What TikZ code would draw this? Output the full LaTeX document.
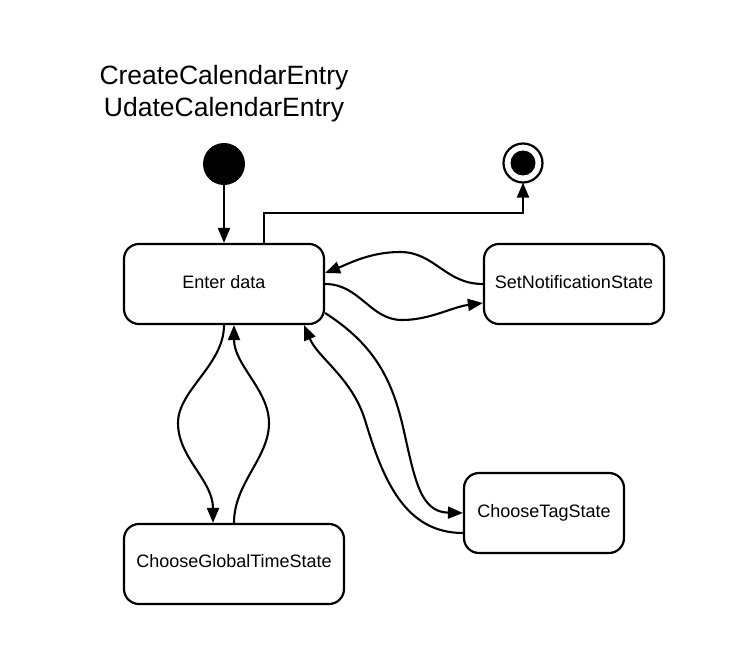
\documentclass[tikz,border=0pt]{standalone}
\usepackage{fontspec}
\setmainfont{Liberation Sans}
\usetikzlibrary{arrows.meta,calc}
\begin{document}
\begin{tikzpicture}[x=1pt,y=-1pt,
  statebox/.style={draw=black,line width=2.2pt,rounded corners=15pt,fill=white,
    minimum width=#1,minimum height=80pt,inner sep=0pt,font=\fontsize{18}{20}\selectfont},
  conn/.style={line width=2.1pt,-{Triangle[length=15pt,width=12pt]}}]
\useasboundingbox (0,0) rectangle (737,663);
\node[align=center,font=\fontsize{26.5}{32}\selectfont] (title) at (224,94) {CreateCalendarEntry\\UdateCalendarEntry};
\node[circle,fill=black,minimum size=42pt,inner sep=0pt] (init) at (224,164) {};
\node[circle,draw=black,line width=2.2pt,fill=white,minimum size=39pt,inner sep=0pt] (final) at (523,163) {};
\node[circle,fill=black,minimum size=25pt,inner sep=0pt] (finalin) at (523,163) {};
\node[statebox=200pt] (enter) at (224,284) {\raisebox{5pt}{Enter data}};
\node[statebox=180pt] (notif) at (574,284) {\raisebox{5pt}{SetNotificationState}};
\node[statebox=160pt] (tag) at (544,513) {\raisebox{5pt}{ChooseTagState}};
\node[statebox=220pt] (global) at (234,564) {\raisebox{6pt}{ChooseGlobalTimeState}};
% initial -> enter
\draw[conn] (init.south) -- (enter.north);
% enter -> final
\draw[conn] ([xshift=40pt]enter.north) -- ++(0,-30) -| ([yshift=1pt]final.south);
% notif -> enter
\draw[conn] (notif.west) .. controls (445,284) and (435,252) .. (400,252)
  .. controls (370,252) and (348,264) .. ([yshift=11pt]enter.east);
% enter -> notif
\draw[conn] (enter.east) .. controls (360,284) and (370,320) .. (402,320)
  .. controls (430,320) and (452,307) .. ([yshift=-19pt]notif.west);
% enter -> tag
\draw[conn] ([yshift=-29pt]enter.east) .. controls (375,345) and (392,380) .. (403,427)
  .. controls (415,480) and (420,512) .. (tag.west);
% tag -> enter
\draw[conn] ([yshift=-20pt]tag.west) .. controls (405,533) and (383,480) .. (365,420)
  .. controls (352,378) and (318,358) .. ([xshift=80pt]enter.south);
% enter -> global
\draw[conn] (enter.south) .. controls (224,365) and (178,390) .. (178,423)
  .. controls (178,458) and (213,480) .. ([xshift=-21pt]global.north);
% global -> enter
\draw[conn] (global.north) .. controls (234,483) and (269,458) .. (269,423)
  .. controls (269,390) and (234,365) .. ([xshift=10pt]enter.south);
\end{tikzpicture}
\end{document}
